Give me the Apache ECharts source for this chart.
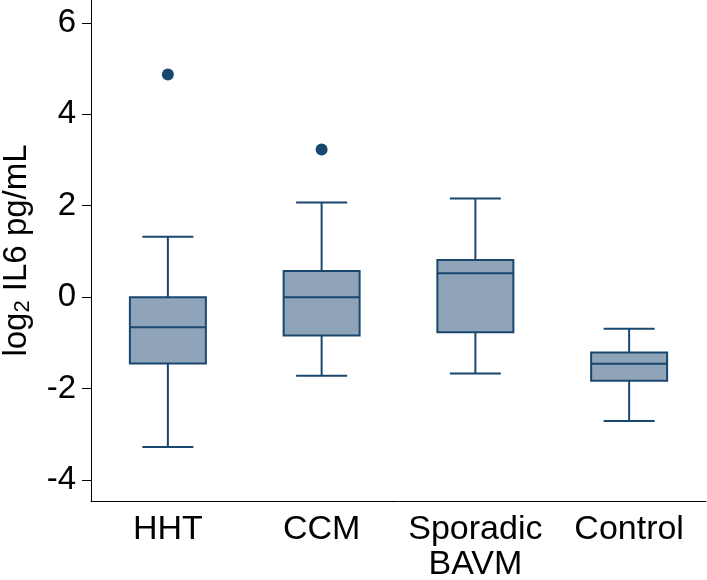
<!DOCTYPE html>
<html>
<head>
<meta charset="utf-8">
<script src="https://cdn.jsdelivr.net/npm/echarts@6/dist/echarts.min.js"></script>
<style>
  html, body { margin: 0; padding: 0; background: #fff; }
  #chart { width: 707px; height: 580px; }
</style>
</head>
<body>
<div id="chart"></div>
<script>
// groups on the x axis
const groups = ["HHT", "CCM", "Sporadic\nBAVM", "Control"];
// [lower whisker, Q1, median, Q3, upper whisker]
const boxStats = [
  [-3.28, -1.45, -0.66, 0.00, 1.32],
  [-1.72, -0.84, 0.00, 0.57, 2.07],
  [-1.67, -0.77, 0.52, 0.81, 2.16],
  [-2.71, -1.83, -1.46, -1.21, -0.69]
];
// outliers: [group index, value]
const outliers = [
  [0, 4.87],
  [1, 3.23]
];
const yTicks = [-4, -2, 0, 2, 4, 6];

const navy = "#1a476f";
const boxFill = "#8fa4b8";
const fontFam = "Liberation Sans, Arial, sans-serif";
const boxW = 76, capW = 51;

// box + whiskers drawn through the axes
function renderBox(params, api) {
  const i = api.value(0);
  const lo = api.coord([i, api.value(1)]);
  const q1 = api.coord([i, api.value(2)]);
  const md = api.coord([i, api.value(3)]);
  const q3 = api.coord([i, api.value(4)]);
  const hi = api.coord([i, api.value(5)]);
  const x = lo[0];
  const line = { stroke: navy, lineWidth: 2 };
  return {
    type: "group",
    children: [
      { type: "line", shape: { x1: x, y1: hi[1], x2: x, y2: q3[1] }, style: line },
      { type: "line", shape: { x1: x, y1: q1[1], x2: x, y2: lo[1] }, style: line },
      { type: "line", shape: { x1: x - capW / 2, y1: hi[1], x2: x + capW / 2, y2: hi[1] }, style: line },
      { type: "line", shape: { x1: x - capW / 2, y1: lo[1], x2: x + capW / 2, y2: lo[1] }, style: line },
      { type: "rect", shape: { x: x - boxW / 2, y: q3[1], width: boxW, height: q1[1] - q3[1] },
        style: { fill: boxFill, stroke: navy, lineWidth: 2 } },
      { type: "line", shape: { x1: x - boxW / 2, y1: md[1], x2: x + boxW / 2, y2: md[1] }, style: line }
    ]
  };
}

const chart = echarts.init(document.getElementById("chart"));
chart.setOption({
  backgroundColor: "#fff",
  animation: false,
  grid: { left: 91, right: 1, top: 0, bottom: 79, outerBoundsMode: "none", containLabel: false },
  xAxis: {
    type: "category",
    data: groups,
    boundaryGap: true,
    axisLine: { onZero: false, lineStyle: { color: "#000", width: 1 } },
    axisTick: { show: false },
    axisLabel: {
      color: "#000",
      fontSize: 34,
      fontFamily: fontFam,
      lineHeight: 35,
      margin: 11,
      interval: 0,
      hideOverlap: false
    },
    splitLine: { show: false }
  },
  yAxis: {
    type: "value",
    min: -4.46,
    max: 6.5,
    name: "log{sub|2} IL6 pg/mL",
    nameLocation: "middle",
    nameGap: 57,
    nameTextStyle: {
      color: "#000",
      fontSize: 33,
      fontFamily: fontFam,
      rich: {
        sub: { fontSize: 22, fontFamily: fontFam, color: "#000", padding: [13, 0, 0, 0] }
      }
    },
    axisLine: { show: true, onZero: false, lineStyle: { color: "#000", width: 1 } },
    axisTick: { show: true, inside: false, length: 9, lineStyle: { color: "#000" }, customValues: yTicks },
    axisLabel: {
      color: "#000",
      fontSize: 33,
      fontFamily: fontFam,
      margin: 15,
      customValues: yTicks
    },
    splitLine: { show: false }
  },
  series: [
    {
      type: "custom",
      renderItem: renderBox,
      encode: { x: 0, y: [1, 2, 3, 4, 5] },
      data: boxStats.map((s, i) => [i].concat(s))
    },
    {
      type: "scatter",
      data: outliers,
      symbol: "circle",
      symbolSize: 12,
      itemStyle: { color: navy, opacity: 1 }
    }
  ]
});
</script>
</body>
</html>
